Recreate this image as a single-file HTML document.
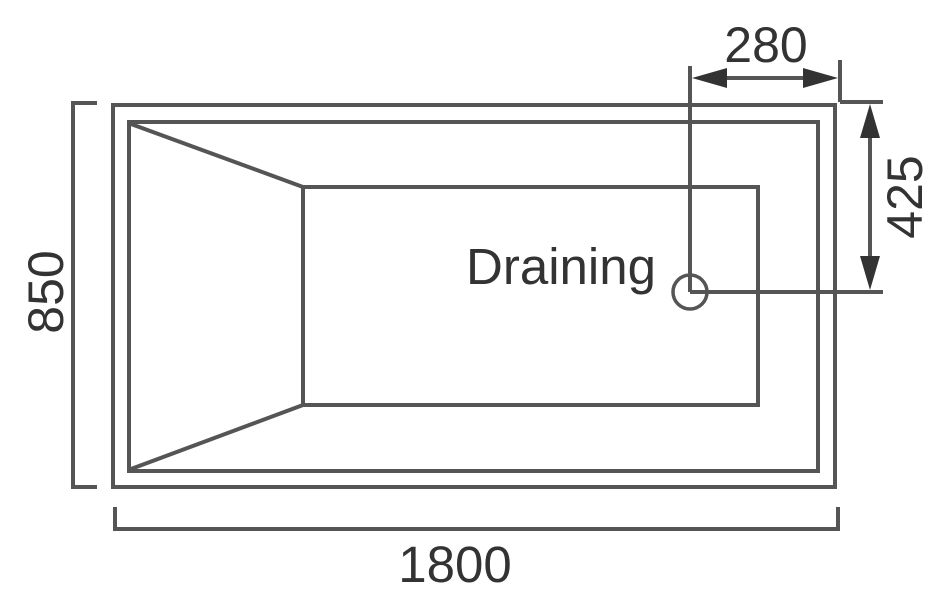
<!DOCTYPE html>
<html><head><style>body{margin:0;background:#fff}svg{display:block}</style></head>
<body>
<svg width="943" height="600" viewBox="0 0 943 600" xmlns="http://www.w3.org/2000/svg">
<g fill="none" stroke="#555" stroke-width="4">
<rect x="113" y="105" width="722" height="382"/>
<rect x="129" y="122" width="689" height="349"/>
<rect x="303" y="187" width="455" height="218"/>
<line x1="131" y1="124" x2="303" y2="187"/>
<line x1="131" y1="469" x2="303" y2="405"/>
<polyline points="97,103 73,103 73,487 97,487"/>
<polyline points="115,507 115,529 838,529 838,507"/>
<line x1="690" y1="66" x2="690" y2="292"/>
<line x1="690" y1="292" x2="883" y2="292"/>
<line x1="840" y1="60" x2="840" y2="102"/>
<line x1="840" y1="102" x2="883" y2="102"/>
<line x1="705" y1="78" x2="825" y2="78"/>
<line x1="870" y1="118" x2="870" y2="278"/>
<circle cx="690" cy="292" r="17" stroke-width="3.5"/>
</g>
<g fill="#333">
<polygon points="692,78 727,68 727,88"/>
<polygon points="838,78 803,68 803,88"/>
<polygon points="870,104 860,138 880,138"/>
<polygon points="870,290 860,256 880,256"/>
</g>
<g font-family="Liberation Sans, sans-serif" fill="#333">
<text x="766" y="62" font-size="50" text-anchor="middle">280</text>
<text x="455" y="582" font-size="51" text-anchor="middle">1800</text>
<text x="561" y="284" font-size="51" text-anchor="middle">Draining</text>
<text transform="translate(922,197) rotate(-90)" font-size="50" text-anchor="middle">425</text>
<text transform="translate(63,292) rotate(-90)" font-size="50" text-anchor="middle">850</text>
</g>
</svg>
</body></html>
